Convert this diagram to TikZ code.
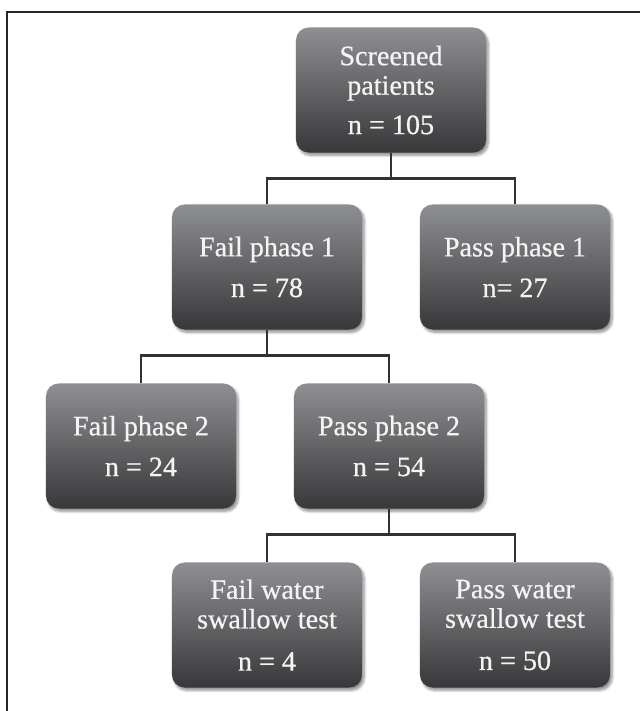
\documentclass[tikz,border=0pt]{standalone}
\usepackage{fontspec}
\setmainfont{Liberation Serif}[FakeBold=0.6,AutoFakeBold=0.6]
\usetikzlibrary{shadows.blur}
\definecolor{boxtop}{RGB}{142,143,146}
\definecolor{boxbot}{RGB}{56,56,58}
\definecolor{linkcol}{RGB}{50,50,52}
\definecolor{txtcol}{RGB}{244,244,244}
\tikzset{
  stage/.style={rounded corners=9pt, minimum width=4.75cm, minimum height=3.125cm,
    top color=boxtop, bottom color=boxbot, text=txtcol, align=center, inner sep=0pt,
    font=\fontsize{20}{21}\selectfont\bfseries,
    blur shadow={shadow xshift=1.5pt, shadow yshift=-2pt, shadow blur steps=6, shadow opacity=45}},
  link/.style={linkcol, line width=2.1pt},
}
\begin{document}
\begin{tikzpicture}[x=0.025cm,y=-0.025cm]
    \useasboundingbox (0,0) rectangle (640,711);
    \draw[black!85, line width=1.3pt] (7,711)--(7,12)--(640,12);
    % boxes
    \node[stage] (scr) at (391,90) {Screened\\patients\\[7pt]n = 105};
    \node[stage] (f1) at (267,267) {Fail phase 1\\[8pt]n = 78};
    \node[stage] (p1) at (515,267) {Pass phase 1\\[8pt]n= 27};
    \node[stage] (f2) at (141,446) {Fail phase 2\\[8pt]n = 24};
    \node[stage] (p2) at (389,446) {Pass phase 2\\[8pt]n = 54};
    \node[stage] (fw) at (267,625) {Fail water\\swallow test\\[9pt]n = 4};
    \node[stage] (pw) at (515,625) {Pass water\\swallow test\\[9pt]n = 50};
    % links
    \draw[link] (scr.south) -- ++(0,26) coordinate (s1);
    \draw[link] (f1.north) |- (s1) -| (p1.north);
    \draw[link] (f1.south) -- ++(0,26) coordinate (s2);
    \draw[link] (f2.north) |- (s2) -| (p2.north);
    \draw[link] (p2.south) -- ++(0,26) coordinate (s3);
    \draw[link] (fw.north) |- (s3) -| (pw.north);
\end{tikzpicture}
\end{document}
